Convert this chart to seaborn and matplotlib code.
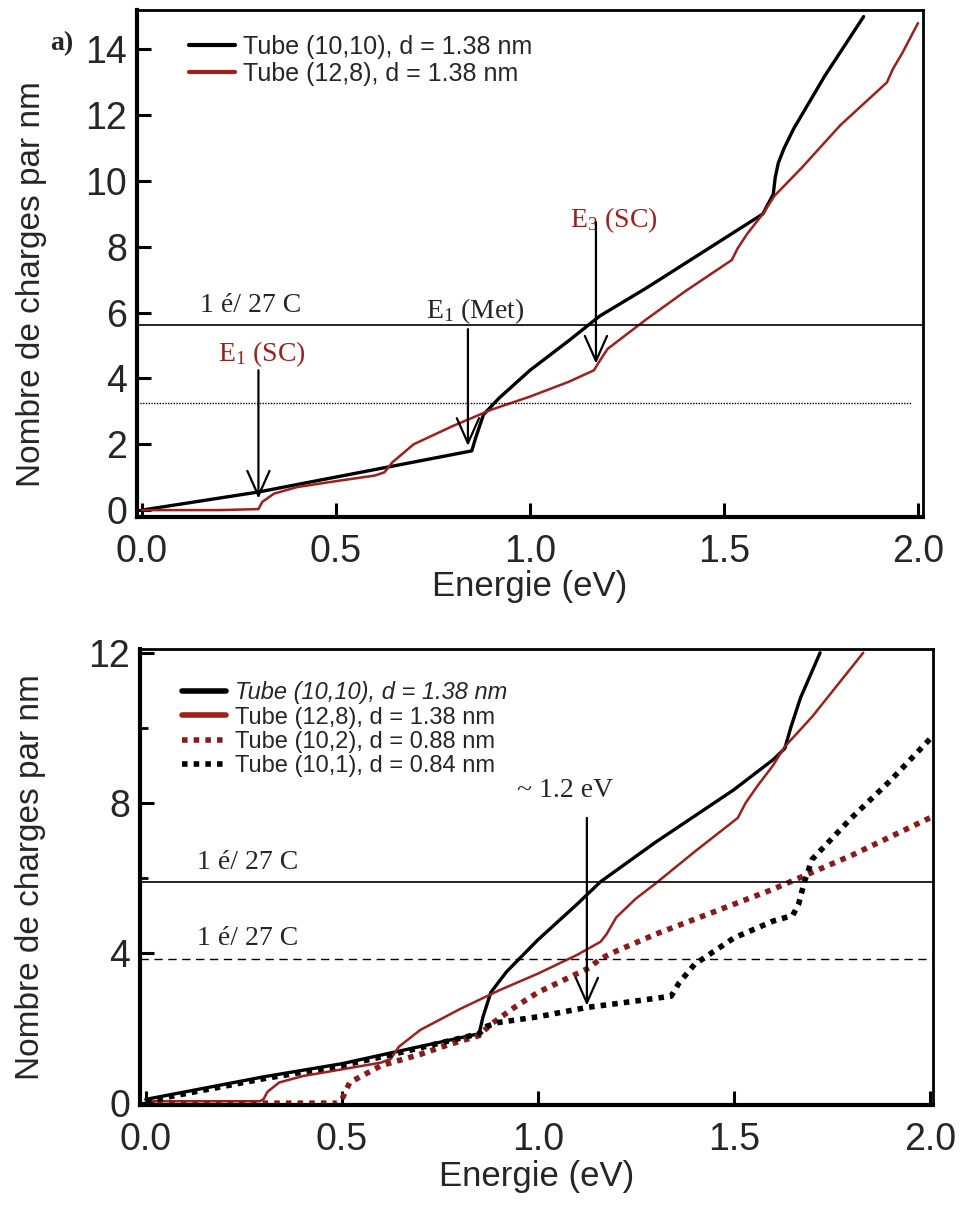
import numpy as np
import pandas as pd
import matplotlib
matplotlib.use("Agg")
import matplotlib.pyplot as plt
import seaborn as sns

# ---------------- data ----------------
# Panel a) -- top
E_1010_a = [0, 0.3, 0.63, 0.85, 0.86, 0.88, 0.92, 1.0, 1.1, 1.18, 1.3, 1.4, 1.5,
            1.6, 1.627, 1.632, 1.64, 1.655, 1.68, 1.72, 1.76, 1.81, 1.86]
N_1010_a = [0, 0.55, 1.3, 1.8, 2.2, 2.9, 3.4, 4.25, 5.15, 5.9, 6.75, 7.5, 8.25,
            9.0, 9.6, 10.1, 10.55, 11.0, 11.6, 12.4, 13.2, 14.1, 15.0]

E_128_a = [0, 0.2, 0.3, 0.31, 0.34, 0.4, 0.5, 0.6, 0.625, 0.645, 0.7, 0.8, 0.85,
           0.9, 1.0, 1.1, 1.165, 1.175, 1.2, 1.25, 1.3, 1.4, 1.52, 1.535, 1.56,
           1.6, 1.63, 1.7, 1.8, 1.92, 1.935, 1.96, 2.0]
N_128_a = [0, 0, 0.03, 0.25, 0.5, 0.7, 0.88, 1.05, 1.15, 1.45, 2.0, 2.55, 2.8,
           3.05, 3.45, 3.9, 4.25, 4.45, 4.9, 5.35, 5.8, 6.65, 7.6, 7.95, 8.4,
           9.0, 9.55, 10.4, 11.7, 13.0, 13.4, 13.9, 14.8]

hline_a_solid = 5.64
hline_a_dotted = 3.24

# Panel b) -- bottom
E_1010_b = [0, 0.3, 0.5, 0.63, 0.85, 0.86, 0.88, 0.92, 1.0, 1.1, 1.16, 1.3, 1.4,
            1.5, 1.55, 1.6, 1.63, 1.645, 1.67, 1.72]
N_1010_b = [0.1, 0.7, 1.05, 1.35, 1.85, 2.3, 2.95, 3.5, 4.35, 5.3, 5.9, 6.95, 7.65,
            8.35, 8.75, 9.15, 9.45, 10.0, 10.8, 12.0]

E_128_b = [0, 0.29, 0.3, 0.31, 0.34, 0.4, 0.5, 0.6, 0.625, 0.645, 0.7, 0.8, 0.9,
           1.0, 1.1, 1.16, 1.175, 1.2, 1.25, 1.3, 1.4, 1.51, 1.53, 1.56, 1.6,
           1.63, 1.7, 1.83]
N_128_b = [0.05, 0.05, 0.1, 0.3, 0.55, 0.72, 0.9, 1.08, 1.18, 1.5, 1.95, 2.5, 3.0,
           3.45, 3.95, 4.3, 4.5, 4.95, 5.45, 5.85, 6.7, 7.6, 8.0, 8.45, 9.0,
           9.5, 10.3, 12.0]

E_102_b = [0, 0.49, 0.5, 0.52, 0.6, 0.7, 0.77, 0.85, 0.88, 0.94, 1.0, 1.08, 1.13,
           1.16, 1.2, 1.3, 1.4, 1.5, 1.6, 1.7, 1.8, 1.9, 2.0]
N_102_b = [0, 0, 0.1, 0.55, 1.0, 1.3, 1.55, 1.8, 2.1, 2.55, 2.95, 3.35, 3.6,
           3.85, 4.05, 4.5, 4.9, 5.3, 5.7, 6.15, 6.6, 7.1, 7.6]

E_101_b = [0, 0.3, 0.5, 0.63, 0.85, 0.87, 0.9, 1.0, 1.125, 1.2, 1.34, 1.36, 1.4,
           1.5, 1.6, 1.65, 1.665, 1.68, 1.7, 1.8, 1.9, 2.0]
N_101_b = [0.05, 0.65, 1.0, 1.3, 1.85, 2.05, 2.15, 2.3, 2.55, 2.65, 2.85, 3.2, 3.7,
           4.4, 4.85, 5.0, 5.3, 5.9, 6.5, 7.6, 8.6, 9.7]

hline_b_solid = 5.89
hline_b_dashed = 3.85

labels = ["Tube (10,10), d = 1.38 nm", "Tube (12,8), d = 1.38 nm",
          "Tube (10,2), d = 0.88 nm", "Tube (10,1), d = 0.84 nm"]
xticks = [0.0, 0.5, 1.0, 1.5, 2.0]
yticks_a = [0, 2, 4, 6, 8, 10, 12, 14]
yticks_b = [0, 4, 8, 12]
yminor_b = [6, 10]

# ---------------- style ----------------
sns.set_style("white")
plt.rcParams["font.family"] = ["Liberation Sans", "DejaVu Sans"]
plt.rcParams["mathtext.default"] = "regular"

RED = "#9e1f1c"
DRED = "#8a1b1b"
SERIF = ["Liberation Serif", "DejaVu Serif"]

fig = plt.figure(figsize=(9.66, 12.14), dpi=100)
W, H = 966, 1214
ax1 = fig.add_axes([137 / W, 1 - 517 / H, (923 - 137) / W, (517 - 10) / H])
ax2 = fig.add_axes([140 / W, 1 - 1105 / H, (933 - 140) / W, (1105 - 649) / H])


def style_axes(ax, xpad, ylab_xy):
    for side in ["left", "bottom"]:
        ax.spines[side].set_linewidth(3.0)
    for side in ["top", "right"]:
        ax.spines[side].set_linewidth(2.0)
    for s in ax.spines.values():
        s.set_color("black")
        s.set_visible(True)
    ax.tick_params(axis="both", which="both", left=True, bottom=True,
                   top=False, right=False)
    ax.tick_params(axis="both", which="major", direction="in", length=10,
                   width=2.2, color="black", labelsize=27)
    ax.tick_params(axis="x", pad=12)
    ax.tick_params(axis="y", pad=7)
    ax.tick_params(axis="both", which="minor", direction="in", length=6,
                   width=2.0, color="black")
    ax.set_xlabel("Energie (eV)", fontsize=25, labelpad=xpad)
    ax.set_ylabel("Nombre de charges par nm", fontsize=24)
    ax.yaxis.set_label_coords(*ylab_xy)
    ax.grid(False)
    ax.set_facecolor("white")


def arrow(ax, x, y0, y1):
    ax.annotate("", xy=(x, y1), xytext=(x, y0),
                arrowprops=dict(arrowstyle="->,head_length=0.9,head_width=0.4",
                                lw=1.6, color="black", shrinkA=0, shrinkB=0,
                                mutation_scale=20))


# ---------------- panel a ----------------
sns.lineplot(x=E_1010_a, y=N_1010_a, ax=ax1, color="black", linewidth=2.4,
             label=labels[0], estimator=None)
sns.lineplot(x=E_128_a, y=N_128_a, ax=ax1, color=RED, linewidth=1.8,
             label=labels[1], estimator=None)
ax1.axhline(hline_a_solid, color="black", linewidth=1.2)
ax1.axhline(hline_a_dotted, xmin=0.0, xmax=0.985, color="black", linewidth=1.0,
            linestyle=(0, (1, 1)))
ax1.set_xlim(-0.013, 2.013)
ax1.set_ylim(-0.21, 15.2)
ax1.set_xticks(xticks)
ax1.set_xticklabels([f"{v:.1f}" for v in xticks])
ax1.set_yticks(yticks_a)
style_axes(ax1, 0, (-0.115, 0.46))
leg1 = ax1.legend(loc="upper left", bbox_to_anchor=(0.05, 0.975), frameon=False,
                  fontsize=18, handlelength=1.85, handletextpad=0.3,
                  labelspacing=0.1, borderpad=0.0)
for ln in leg1.get_lines():
    ln.set_linewidth(3.0)

ax1.text(0.15, hline_a_solid + 0.2, "1 é/ 27 C", family=SERIF, fontsize=20,
         ha="left", va="bottom")
ax1.text(0.31, 4.75, "E$_1$ (SC)", family=SERIF, fontsize=20, color=RED,
         ha="center", va="center")
arrow(ax1, 0.3, 4.25, 0.35)
ax1.text(0.86, hline_a_solid - 0.05, "E$_1$ (Met)", family=SERIF, fontsize=20,
         ha="center", va="bottom")
arrow(ax1, 0.84, 5.5, 1.95)
ax1.text(1.215, 8.8, "E$_3$ (SC)", family=SERIF, fontsize=20, color=RED,
         ha="center", va="center")
arrow(ax1, 1.17, 8.75, 4.45)
fig.text(62 / W, 1 - 44 / H, "a)", family=SERIF, fontsize=20,
         fontweight="bold", ha="center", va="center")

# ---------------- panel b ----------------
sns.lineplot(x=E_1010_b, y=N_1010_b, ax=ax2, color="black", linewidth=2.4,
             label=labels[0], estimator=None)
sns.lineplot(x=E_128_b, y=N_128_b, ax=ax2, color=RED, linewidth=1.8,
             label=labels[1], estimator=None)
sns.lineplot(x=E_102_b, y=N_102_b, ax=ax2, color=DRED, linewidth=4.0,
             linestyle=(0, (1, 1.1)), label=labels[2], estimator=None)
sns.lineplot(x=E_101_b, y=N_101_b, ax=ax2, color="black", linewidth=4.0,
             linestyle=(0, (1, 1.1)), label=labels[3], estimator=None)
ax2.axhline(hline_b_solid, color="black", linewidth=1.2)
ax2.axhline(hline_b_dashed, color="black", linewidth=1.0,
            linestyle=(0, (6, 4)))
ax2.set_xlim(-0.015, 2.008)
ax2.set_ylim(-0.05, 12.1)
ax2.set_xticks(xticks)
ax2.set_xticklabels([f"{v:.1f}" for v in xticks])
ax2.set_yticks(yticks_b)
ax2.set_yticks(yminor_b, minor=True)
style_axes(ax2, 2, (-0.118, 0.5))
leg2 = ax2.legend(loc="upper left", bbox_to_anchor=(0.038, 0.955), frameon=False,
                  fontsize=17, handlelength=1.85, handletextpad=0.4,
                  labelspacing=0.1, borderpad=0.0)
for ln in leg2.get_lines():
    ln.set_linewidth(4.0)
leg2.get_texts()[0].set_style("italic")

ax2.text(0.13, hline_b_solid + 0.2, "1 é/ 27 C", family=SERIF, fontsize=20,
         ha="left", va="bottom")
ax2.text(0.13, hline_b_dashed + 0.2, "1 é/ 27 C", family=SERIF, fontsize=20,
         ha="left", va="bottom")
ax2.text(1.07, 8.0, "~ 1.2 eV", family=SERIF, fontsize=20, ha="center",
         va="bottom")
arrow(ax2, 1.125, 7.6, 2.6)

fig.savefig("out.png", dpi=100, facecolor="white")
